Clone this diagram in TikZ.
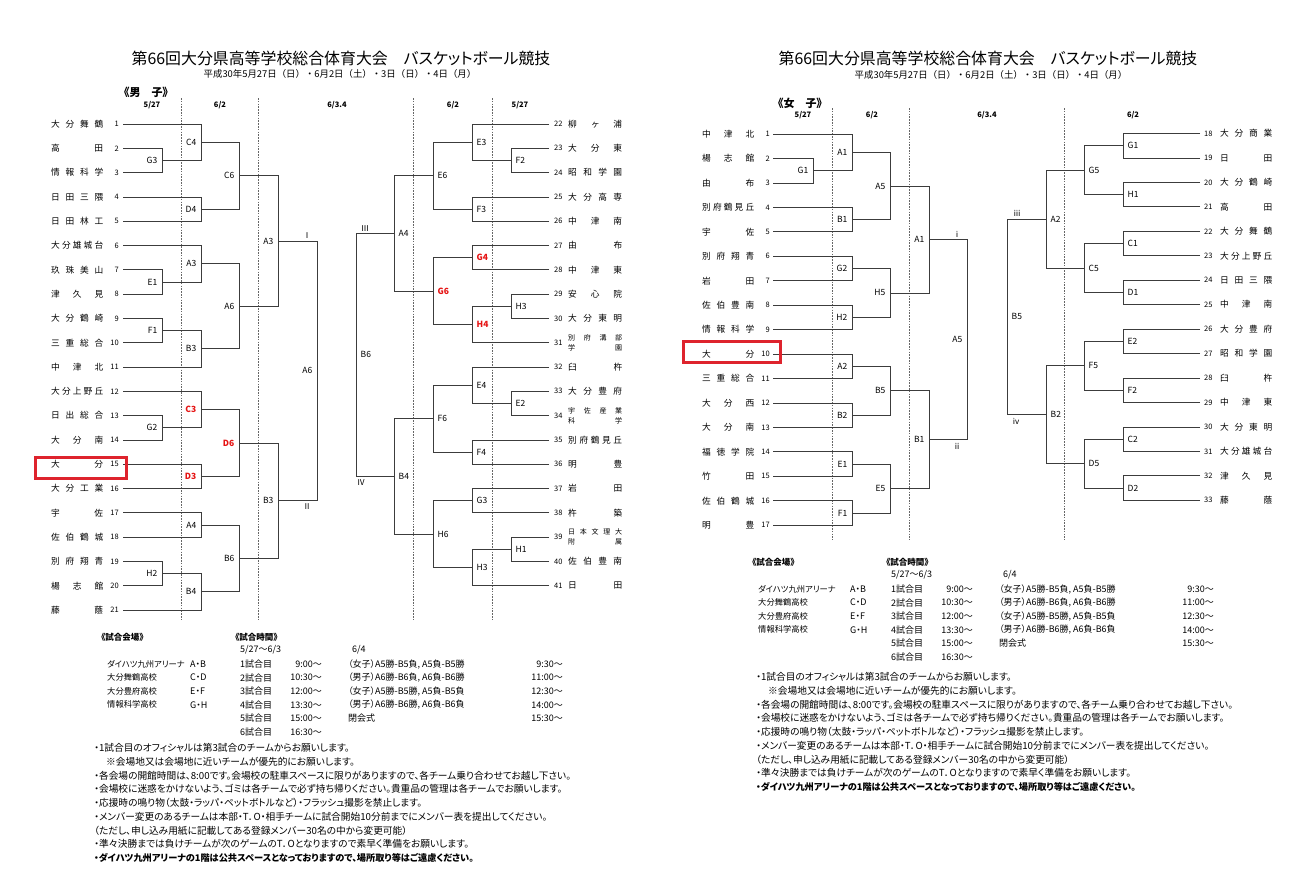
\documentclass[tikz,border=0pt]{standalone}
\usepackage{fontspec}
\setmainfont[RawFeature=+palt]{Noto Sans CJK JP}
\newfontfamily\fw{Noto Sans CJK JP}
\usetikzlibrary{calc}

\definecolor{linegray}{RGB}{60,60,60}
\definecolor{boxred}{RGB}{222,35,45}
\definecolor{winred}{RGB}{230,20,20}

% team names spread over the name column
\newcommand\nmL[1]{\makebox[52pt][s]{#1}}
\newcommand\nmR[1]{\makebox[54pt][s]{#1}}
\newcommand\nmtwo[2]{{\fontsize{7}{8}\selectfont\shortstack{\makebox[54pt][s]{#1}\\[1pt]\makebox[54pt][s]{#2}}}}
\newcommand\rd[1]{\textcolor{winred}{\textbf{#1}}}

\begin{document}
\begin{tikzpicture}[x=1pt, y=-1pt,
  bk/.style={draw=linegray, line width=0.8pt},
  daybreak/.style={draw=black!60, line width=0.5pt, dash pattern=on 1.6pt off 1.2pt},
  team/.style={anchor=west, inner sep=0pt, font=\fontsize{8.7}{9}\selectfont},
  num/.style={inner sep=0pt, font=\fontsize{7.5}{8}\selectfont},
  lblL/.style={anchor=east, inner sep=0pt, xshift=-4.5pt, font=\fontsize{8.5}{9}\selectfont},
  lblR/.style={anchor=west, inner sep=0pt, xshift=4.5pt, font=\fontsize{8.5}{9}\selectfont},
  rom/.style={inner sep=0pt, font=\fontsize{8}{9}\selectfont},
  day/.style={inner sep=0pt, font=\bfseries\fontsize{7.5}{8}\selectfont},
  ttl/.style={inner sep=0pt, font=\fontsize{15.9}{17}\selectfont},
  sub/.style={inner sep=0pt, font=\fw\fontsize{9.4}{10}\selectfont},
  sect/.style={inner sep=0pt, font=\bfseries\fontsize{11}{12}\selectfont},
  tbh/.style={anchor=west, inner sep=0pt, font=\bfseries\fontsize{8.5}{9}\selectfont},
  tbv/.style={anchor=west, inner sep=0pt, font=\fontsize{8.3}{9}\selectfont},
  tb/.style={anchor=west, inner sep=0pt, font=\fontsize{9}{10}\selectfont},
  tbr/.style={anchor=east, inner sep=0pt, font=\fontsize{9}{10}\selectfont},
  note/.style={anchor=west, inner sep=0pt, font=\fontsize{9.7}{10}\selectfont}]

  \useasboundingbox (0,0) rectangle (1312,883);
  \fill[white] (0,0) rectangle (1312,883);

  % titles
  \node[ttl] (mTitle) at (341,58) {第66回大分県高等学校総合体育大会　バスケットボール競技};
  \node[sub] (mSub) at (340,74) {平成30年5月27日（日）・6月2日（土）・3日（日）・4日（月）};
  \node[ttl] (fTitle) at (988,58) {第66回大分県高等学校総合体育大会　バスケットボール競技};
  \node[sub] (fSub) at (991,75) {平成30年5月27日（日）・6月2日（土）・3日（日）・4日（月）};

  \node[sect] (mSec) at (146,92) {《男　子》};
  \node[sect] (fSec) at (800,103) {《女　子》};

  % round dates
  \node[day] (mD1) at (152,105) {5/27};
  \node[day] (mD2) at (220,105) {6/2};
  \node[day] (mD3) at (337,105) {6/3.4};
  \node[day] (mD4) at (453,105) {6/2};
  \node[day] (mD5) at (520,105) {5/27};
  \node[day] (fD1) at (803,115) {5/27};
  \node[day] (fD2) at (872,115) {6/2};
  \node[day] (fD3) at (987,115) {6/3.4};
  \node[day] (fD4) at (1133,115) {6/2};

  % day borders
  \foreach \xd in {181,258,413,492} \draw[daybreak] (\xd,98) -- (\xd,620);
  \foreach \xd in {832,909,1064} \draw[daybreak] (\xd,108) -- (\xd,540);

  % boys, left half
  \foreach \n/\nme in {1/大 分 舞 鶴, 2/高 田, 3/情 報 科 学, 4/日 田 三 隈, 5/日 田 林 工, 6/大 分 雄 城 台, 7/玖 珠 美 山, 8/津 久 見, 9/大 分 鶴 崎, 10/三 重 総 合, 11/中 津 北, 12/大 分 上 野 丘, 13/日 出 総 合, 14/大 分 南, 15/大 分, 16/大 分 工 業, 17/宇 佐, 18/佐 伯 鶴 城, 19/別 府 翔 青, 20/楊 志 館, 21/藤 蔭}{
    \node[team] (mLn\n) at (51,{124+(\n-1)*24.3}) {\nmL{\nme}};
    \node[num, anchor=east] (mLk\n) at (119,{124+(\n-1)*24.3}) {\n};
    \coordinate (mL\n) at (123,{124+(\n-1)*24.3});
  }
  % boys, right half
  \foreach \n/\nme in {22/柳 ヶ 浦, 23/大 分 東, 24/昭 和 学 園, 25/大 分 高 専, 26/中 津 南, 27/由 布, 28/中 津 東, 29/安 心 院, 30/大 分 東 明, 31/\nmtwo{別 府 溝 部}{学 園}, 32/臼 杵, 33/大 分 豊 府, 34/\nmtwo{宇 佐 産 業}{科 学}, 35/別 府 鶴 見 丘, 36/明 豊, 37/岩 田, 38/杵 築, 39/\nmtwo{日 本 文 理 大}{附 属}, 40/佐 伯 豊 南, 41/日 田}{
    \node[team] (mRn\n) at (568,{124+(\n-22)*24.3}) {\nmR{\nme}};
    \node[num, anchor=west] (mRk\n) at (554,{124+(\n-22)*24.3}) {\n};
    \coordinate (mR\n) at (549,{124+(\n-22)*24.3});
  }
  % girls, left half
  \foreach \n/\nme in {1/中 津 北, 2/楊 志 館, 3/由 布, 4/別 府 鶴 見 丘, 5/宇 佐, 6/別 府 翔 青, 7/岩 田, 8/佐 伯 豊 南, 9/情 報 科 学, 10/大 分, 11/三 重 総 合, 12/大 分 西, 13/大 分 南, 14/福 徳 学 院, 15/竹 田, 16/佐 伯 鶴 城, 17/明 豊}{
    \node[team] (fLn\n) at (702,{134+(\n-1)*24.45}) {\nmL{\nme}};
    \node[num, anchor=east] (fLk\n) at (770,{134+(\n-1)*24.45}) {\n};
    \coordinate (fL\n) at (773,{134+(\n-1)*24.45});
  }
  % girls, right half
  \foreach \n/\nme in {18/大 分 商 業, 19/日 田, 20/大 分 鶴 崎, 21/高 田, 22/大 分 舞 鶴, 23/大 分 上 野 丘, 24/日 田 三 隈, 25/中 津 南, 26/大 分 豊 府, 27/昭 和 学 園, 28/臼 杵, 29/中 津 東, 30/大 分 東 明, 31/大 分 雄 城 台, 32/津 久 見, 33/藤 蔭}{
    \node[team] (fRn\n) at (1220,{133.5+(\n-18)*24.45}) {\nmL{\nme}};
    \node[num, anchor=west] (fRk\n) at (1204,{133.5+(\n-18)*24.45}) {\n};
    \coordinate (fR\n) at (1200,{133.5+(\n-18)*24.45});
  }

  % games, boys left
  \foreach \m/\xc/\a/\b/\lb in {
    mL1-G3/162/mL2/mL3/G3, mL1-E1/162/mL7/mL8/E1, mL1-F1/162/mL9/mL10/F1, mL1-G2/162/mL13/mL14/G2, mL1-H2/162/mL19/mL20/H2,
    mL2-C4/201/mL1/mL1-G3/C4, mL2-D4/201/mL4/mL5/D4, mL2-A3/201/mL6/mL1-E1/A3, mL2-B3/201/mL1-F1/mL11/B3,
    mL2-C3/201/mL12/mL1-G2/\rd{C3}, mL2-D3/201/mL15/mL16/\rd{D3}, mL2-A4/201/mL17/mL18/A4, mL2-B4/201/mL1-H2/mL21/B4,
    mL3-C6/239/mL2-C4/mL2-D4/C6, mL3-A6/239/mL2-A3/mL2-B3/A6, mL3-D6/239/mL2-C3/mL2-D3/\rd{D6}, mL3-B6/239/mL2-A4/mL2-B4/B6,
    mL4-A3/278/mL3-C6/mL3-A6/A3, mL4-B3/278/mL3-D6/mL3-B6/B3,
    mL5/317/mL4-A3/mL4-B3/A6}{
    \path let \p1=($(\a)!0.5!(\b)$) in coordinate (\m) at (\xc pt,\y1);
    \draw[bk] (\a) -| (\m) (\b) -| (\m);
    \node[lblL] (\m-t) at (\m) {\lb};
  }
  \node[rom, anchor=south] (mLi) at ($(mL4-A3 -| mL5)+(-10,-2)$) {Ⅰ};
  \node[rom, anchor=north] (mLii) at ($(mL4-B3 -| mL5)+(-10,3)$) {Ⅱ};

  % games, boys right
  \foreach \m/\xc/\a/\b/\lb in {
    mR1-F2/511/mR23/mR24/F2, mR1-H3/511/mR29/mR30/H3, mR1-E2/511/mR33/mR34/E2, mR1-H1/511/mR39/mR40/H1,
    mR2-E3/472/mR22/mR1-F2/E3, mR2-F3/472/mR25/mR26/F3, mR2-G4/472/mR27/mR28/\rd{G4}, mR2-H4/472/mR1-H3/mR31/\rd{H4},
    mR2-E4/472/mR32/mR1-E2/E4, mR2-F4/472/mR35/mR36/F4, mR2-G3/472/mR37/mR38/G3, mR2-H3/472/mR1-H1/mR41/H3,
    mR3-E6/433/mR2-E3/mR2-F3/E6, mR3-G6/433/mR2-G4/mR2-H4/\rd{G6}, mR3-F6/433/mR2-E4/mR2-F4/F6, mR3-H6/433/mR2-G3/mR2-H3/H6,
    mR4-A4/394/mR3-E6/mR3-G6/A4, mR4-B4/394/mR3-F6/mR3-H6/B4,
    mR5/356/mR4-A4/mR4-B4/B6}{
    \path let \p1=($(\a)!0.5!(\b)$) in coordinate (\m) at (\xc pt,\y1);
    \draw[bk] (\a) -| (\m) (\b) -| (\m);
    \node[lblR] (\m-t) at (\m) {\lb};
  }
  \node[rom, anchor=south] (mRiii) at ($(mR4-A4 -| mR5)+(9,-2)$) {Ⅲ};
  \node[rom, anchor=north] (mRiv) at ($(mR4-B4 -| mR5)+(5,3)$) {Ⅳ};

  % games, girls left
  \foreach \m/\xc/\a/\b/\lb in {
    fL1-G1/813/fL2/fL3/G1,
    fL2-A1/852/fL1/fL1-G1/A1, fL2-B1/852/fL4/fL5/B1, fL2-G2/852/fL6/fL7/G2, fL2-H2/852/fL8/fL9/H2,
    fL2-A2/852/fL10/fL11/A2, fL2-B2/852/fL12/fL13/B2, fL2-E1/852/fL14/fL15/E1, fL2-F1/852/fL16/fL17/F1,
    fL3-A5/890/fL2-A1/fL2-B1/A5, fL3-H5/890/fL2-G2/fL2-H2/H5, fL3-B5/890/fL2-A2/fL2-B2/B5, fL3-E5/890/fL2-E1/fL2-F1/E5,
    fL4-A1/929/fL3-A5/fL3-H5/A1, fL4-B1/929/fL3-B5/fL3-E5/B1,
    fL5/967/fL4-A1/fL4-B1/A5}{
    \path let \p1=($(\a)!0.5!(\b)$) in coordinate (\m) at (\xc pt,\y1);
    \draw[bk] (\a) -| (\m) (\b) -| (\m);
    \node[lblL] (\m-t) at (\m) {\lb};
  }
  \node[rom, anchor=south] (fLi) at ($(fL4-A1 -| fL5)+(-10,-2)$) {ⅰ};
  \node[rom, anchor=north] (fLii) at ($(fL4-B1 -| fL5)+(-10,3)$) {ⅱ};

  % games, girls right
  \foreach \m/\xc/\a/\b/\lb in {
    fR2-G1/1123/fR18/fR19/G1, fR2-H1/1123/fR20/fR21/H1, fR2-C1/1123/fR22/fR23/C1, fR2-D1/1123/fR24/fR25/D1,
    fR2-E2/1123/fR26/fR27/E2, fR2-F2/1123/fR28/fR29/F2, fR2-C2/1123/fR30/fR31/C2, fR2-D2/1123/fR32/fR33/D2,
    fR3-G5/1084/fR2-G1/fR2-H1/G5, fR3-C5/1084/fR2-C1/fR2-D1/C5, fR3-F5/1084/fR2-E2/fR2-F2/F5, fR3-D5/1084/fR2-C2/fR2-D2/D5,
    fR4-A2/1046/fR3-G5/fR3-C5/A2, fR4-B2/1046/fR3-F5/fR3-D5/B2,
    fR5/1007/fR4-A2/fR4-B2/B5}{
    \path let \p1=($(\a)!0.5!(\b)$) in coordinate (\m) at (\xc pt,\y1);
    \draw[bk] (\a) -| (\m) (\b) -| (\m);
    \node[lblR] (\m-t) at (\m) {\lb};
  }
  \node[rom, anchor=south] (fRiii) at ($(fR4-A2 -| fR5)+(10,-2)$) {ⅲ};
  \node[rom, anchor=north] (fRiv) at ($(fR4-B2 -| fR5)+(9,3)$) {ⅳ};

  % Oita highlighted
  \draw[boxred, line width=3pt] (35,457) rectangle (126,478);
  \draw[boxred, line width=3pt] (683,341) rectangle (780,362);

  % venues and times
  \foreach \pn/\ox/\oy/\cx in {m/0/0/190, f/651/-75/199}{
    \begin{scope}[shift={(\ox,\oy)}]
      \node[tbh] (\pn Vh) at (101,637) {《試合会場》};
      \node[tbh] (\pn Th) at (235,637) {《試合時間》};
      \node[tb] (\pn Dh1) at (240,650) {5/27～6/3};
      \node[tb] (\pn Dh2) at (352,650) {6/4};
      \foreach \k/\vn/\cd in {0/ダイハツ九州アリーナ/A・B, 1/大分舞鶴高校/C・D, 2/大分豊府高校/E・F, 3/情報科学高校/G・H}{
        \node[tbv] (\pn V\k) at (107,{664+\k*13.6}) {\vn};
        \node[tb] (\pn C\k) at (\cx,{664+\k*13.6}) {\cd};
      }
      \foreach \k/\gm/\tm in {0/1試合目/9:00～, 1/2試合目/10:30～, 2/3試合目/12:00～, 3/4試合目/13:30～, 4/5試合目/15:00～, 5/6試合目/16:30～}{
        \node[tb] (\pn G\k) at (240,{664+\k*13.6}) {\gm};
        \node[tbr] (\pn S\k) at (322,{664+\k*13.6}) {\tm};
      }
      \foreach \k/\gm/\tm in {0/{（女子）A5勝-B5負, A5負-B5勝}/9:30～, 1/{（男子）A6勝-B6負, A6負-B6勝}/11:00～, 2/{（女子）A5勝-B5勝, A5負-B5負}/12:30～, 3/{（男子）A6勝-B6勝, A6負-B6負}/14:00～, 4/閉会式/15:30～}{
        \node[tb] (\pn F\k) at (348,{664+\k*13.6}) {\gm};
        \node[tbr] (\pn E\k) at (563,{664+\k*13.6}) {\tm};
      }
    \end{scope}
  }

  % notes
  \foreach \pn/\nx/\ny in {m/94/748, f/756/677}{
    \foreach \k/\txt in {0/{・1試合目のオフィシャルは第3試合のチームからお願いします。},
      1/{\hspace*{12pt}※会場地又は会場地に近いチームが優先的にお願いします。},
      2/{・各会場の開館時間は、8:00です。会場校の駐車スペースに限りがありますので、各チーム乗り合わせてお越し下さい。},
      3/{・会場校に迷惑をかけないよう、ゴミは各チームで必ず持ち帰りください。貴重品の管理は各チームでお願いします。},
      4/{・応援時の鳴り物（太鼓・ラッパ・ペットボトルなど）・フラッシュ撮影を禁止します。},
      5/{・メンバー変更のあるチームは本部・T．O・相手チームに試合開始10分前までにメンバー表を提出してください。},
      6/{（ただし、申し込み用紙に記載してある登録メンバー30名の中から変更可能）},
      7/{・準々決勝までは負けチームが次のゲームのT．Oとなりますので素早く準備をお願いします。},
      8/{\fontsize{9.2}{10}\selectfont\textbf{・ダイハツ九州アリーナの1階は公共スペースとなっておりますので、場所取り等はご遠慮ください。}}}{
      \node[note] (\pn N\k) at (\nx,{\ny+\k*13.75}) {\txt};
    }
  }
\end{tikzpicture}
\end{document}
